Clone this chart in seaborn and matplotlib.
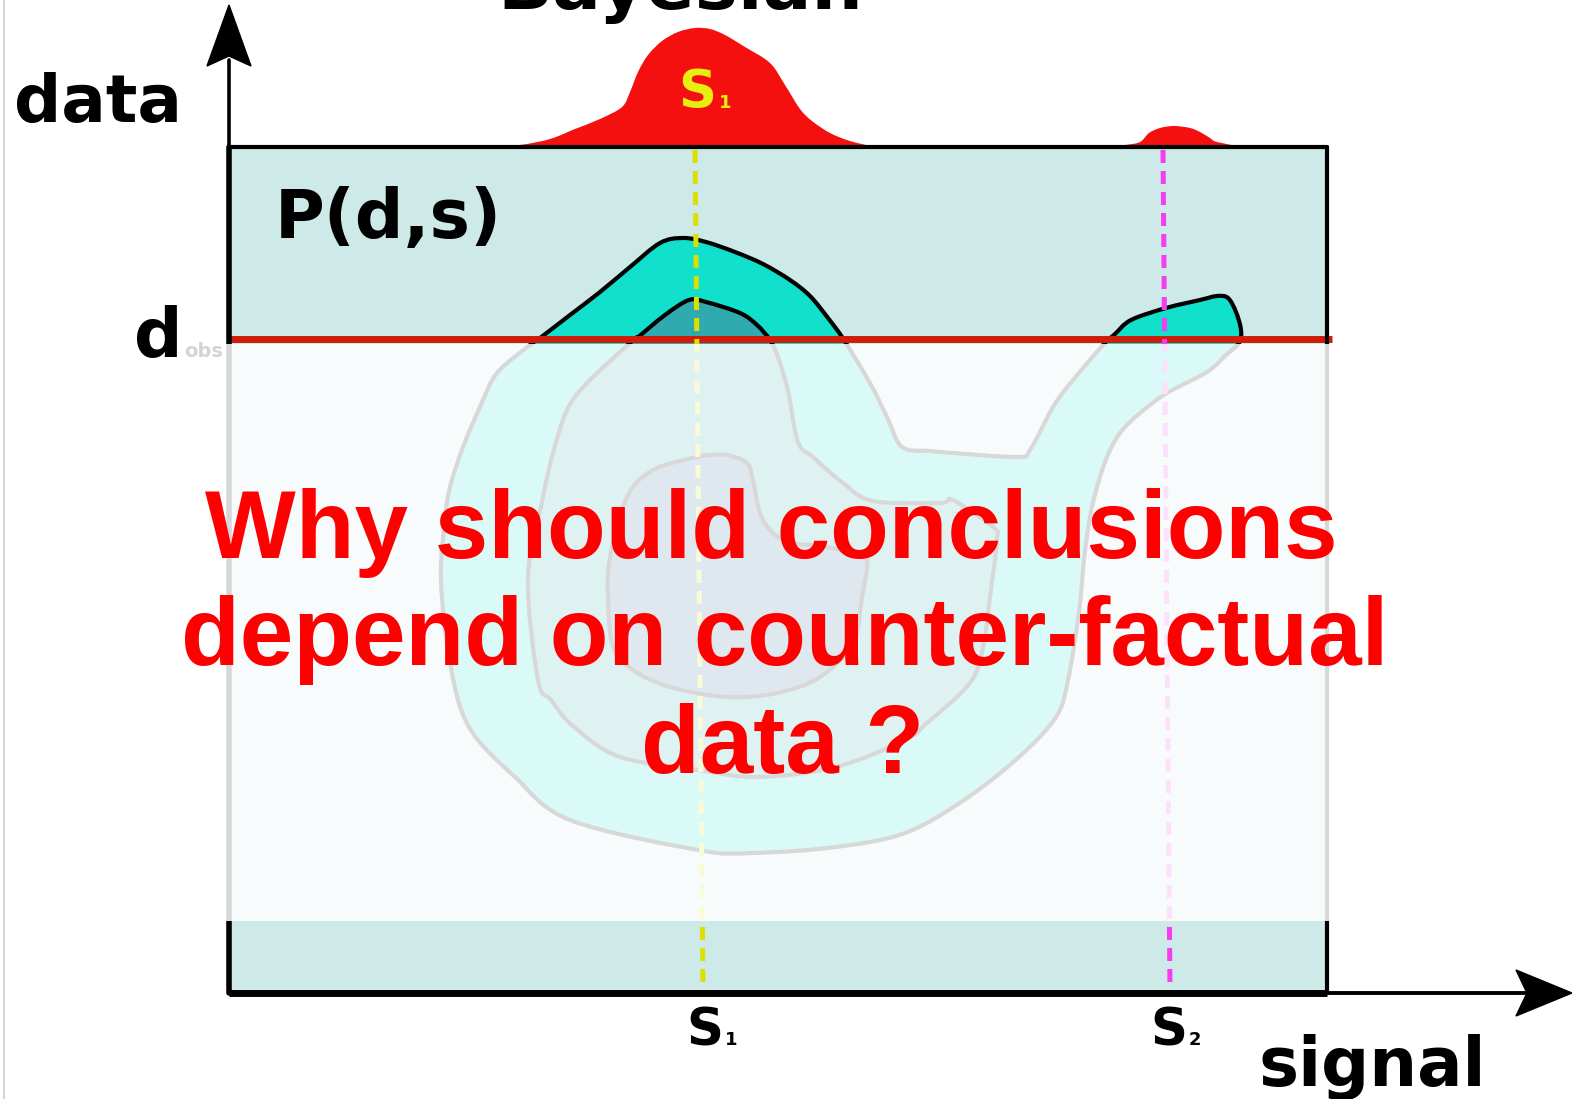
import numpy as np
import matplotlib.pyplot as plt
import seaborn as sns
from matplotlib.path import Path
from matplotlib.patches import PathPatch

sns.set_theme(style="white")
plt.rcParams['font.family'] = ['DejaVu Sans']

# drawing units: signal runs left->right, data runs downwards (picture units)
# marginal posterior on top of the frame
red_sig = [490, 520, 550, 575, 600, 622, 630, 638, 648, 662, 678, 695, 710, 725, 745, 770, 785, 800, 812, 830, 850, 875]
red_h = [0, 2, 8, 18, 28, 40, 55, 75, 92, 106, 115, 119, 118, 112, 100, 84, 62, 38, 26, 14, 6, 0]
bump_sig = [1106, 1125, 1140, 1149, 1160, 1174, 1190, 1200, 1210, 1217, 1243]
bump_h = [0, 2, 5, 14, 19, 21, 19, 15, 9, 5, 0]

# joint P(d,s) contour levels (outer, middle, inner)
outer_s = [530, 540, 570, 600, 630, 660, 683, 706, 735, 763, 790, 810, 828, 844, 870, 887, 902, 930, 953, 1017,
           1030, 1053, 1073, 1103, 1115, 1131, 1166, 1200, 1217, 1228, 1236, 1241, 1239, 1226, 1207, 1167, 1140,
           1120, 1107, 1097, 1090, 1084, 1079, 1068, 1056, 1019, 964, 905, 836, 753, 698, 570, 515, 469, 450,
           441, 445, 450, 463, 480, 497]
outer_d = [345, 338, 315, 292, 267, 243, 238, 242, 252, 264, 280, 296, 318, 340, 383, 417, 447, 451, 453, 457,
           450, 407, 380, 345, 334, 320, 308, 300, 296, 298, 312, 330, 343, 355, 372, 393, 413,
           433, 457, 487, 517, 560, 612, 680, 717, 757, 800, 833, 847, 853, 850, 820, 777, 727, 663,
           580, 520, 487, 447, 407, 373]
mid_s = [630, 637, 665, 689, 706, 740, 757, 770, 778, 788, 798, 813, 843, 873, 940, 953, 993, 997, 990, 983,
         970, 927, 905, 836, 758, 698, 620, 574, 551, 538, 528, 543, 553, 567, 587]
mid_d = [343, 338, 315, 300, 302, 313, 325, 340, 357, 391, 442, 457, 483, 501, 503, 500, 527, 540, 597, 647,
         683, 723, 740, 767, 777, 770, 757, 727, 700, 680, 578, 497, 453, 410, 383]
inner_s = [653, 697, 713, 727, 747, 753, 760, 773, 793, 827, 863, 867, 862, 853, 820, 777, 727, 670, 633, 613,
           608, 610, 627]
inner_d = [470, 457, 455, 455, 463, 480, 513, 533, 543, 547, 557, 567, 597, 643, 677, 693, 697, 687, 670, 647,
           597, 557, 497]

d_obs = 339
s_true = [(695, 703), (1163, 1170)]
s_colors = ['#dce000', '#f23ef0']
frame_s = (229, 1327)
frame_d = (147, 993)
band_d = (344, 921)


def smooth_path(xs, ys, closed=True):
    # catmull-rom through the read points, drawn as bezier segments
    p = np.column_stack([xs, ys]).astype(float)
    n = len(p)
    if closed:
        get = lambda i: p[i % n]
        segs = range(n)
    else:
        get = lambda i: p[min(max(i, 0), n - 1)]
        segs = range(n - 1)
    verts = [p[0]]
    codes = [Path.MOVETO]
    for i in segs:
        p0, p1, p2, p3 = get(i - 1), get(i), get(i + 1), get(i + 2)
        verts += [p1 + (p2 - p0) / 6, p2 - (p3 - p1) / 6, p2]
        codes += [Path.CURVE4] * 3
    if closed:
        verts.append(p[0])
        codes.append(Path.CLOSEPOLY)
    return verts, codes


def density_patch(sig, h, base, **kw):
    verts, codes = smooth_path(sig, base - np.array(h, dtype=float), closed=False)
    verts.append(verts[0])
    codes.append(Path.CLOSEPOLY)
    return PathPatch(Path(verts, codes), **kw)


fig = plt.figure(figsize=(15.72, 10.99), dpi=100)
ax = fig.add_axes([0, 0, 1, 1])
ax.set_xlim(0, 1572)
ax.set_ylim(1099, 0)
ax.axis('off')

# frame background
ax.fill_between(frame_s, frame_d[0], frame_d[1], color='#cdeae8', zorder=1, lw=0)

# contours
for xs, ys, fc, z in [(outer_s, outer_d, '#10e0cc', 2), (mid_s, mid_d, '#30aaae', 2.1),
                      (inner_s, inner_d, '#2f6499', 2.2)]:
    v, c = smooth_path(xs, ys)
    ax.add_patch(PathPatch(Path(v, c), facecolor=fc, edgecolor='black', lw=3, zorder=z))

# observed data line
ax.plot([frame_s[0], 1332], [d_obs, d_obs], color='#d01c08', lw=5, zorder=3, solid_capstyle='butt')

# true signal lines
for (top, bot), c in zip(s_true, s_colors):
    ax.plot([top, bot], [150, 990], color=c, lw=3.6, dashes=(2.6, 1.6), zorder=4)

# frame border
ax.plot([frame_s[0], frame_s[1]], [frame_d[0], frame_d[0]], color='black', lw=3, zorder=5)
ax.plot([frame_s[1], frame_s[1]], [frame_d[0], frame_d[1]], color='black', lw=3, zorder=5)
ax.plot([frame_s[0], frame_s[1]], [frame_d[1], frame_d[1]], color='black', lw=5, zorder=5, solid_capstyle='butt')
ax.plot([frame_s[0], frame_s[0]], [frame_d[0], frame_d[1]], color='black', lw=4, zorder=5)

# axes arrows
ax.plot([229, 229], [60, frame_d[0]], color='black', lw=2.6, zorder=5)
ax.fill([229, 251, 229, 207], [5, 66, 56, 66], color='black', zorder=5)
ax.plot([frame_s[1], 1525], [993, 993], color='black', lw=2.8, zorder=5)
ax.fill([1572, 1516, 1527, 1516], [993, 970, 993, 1016], color='black', zorder=5)

# faded middle (counterfactual data)
ax.fill_between([226, 1332], band_d[0], band_d[1], color='white', alpha=0.85, lw=0, zorder=6)

# image edge
ax.plot([4, 4], [0, 1099], color='#cccccc', lw=1.2, zorder=6)

# marginal on top
ax.add_patch(density_patch(red_sig, red_h, frame_d[0], facecolor='#f51010', lw=0, zorder=4))
ax.add_patch(density_patch(bump_sig, bump_h, frame_d[0], facecolor='#f51010', lw=0, zorder=4))

bold = dict(fontweight='bold', va='baseline', ha='left', zorder=8)
ax.text(680, 9, 'Bayesian', fontsize=52, color='black', fontweight='bold', ha='center', va='baseline')
ax.text(14, 122, 'data', fontsize=47.5, color='black', **bold)
ax.text(275, 238, 'P(d,s)', fontsize=49, color='black', **bold)
ax.text(134, 357, 'd', fontsize=49, color='black', **bold)
ax.text(184, 357, 'obs', fontsize=14, color='#d4d4d4', **bold)
ax.text(678, 108, 'S', fontsize=38, color='#e8ee10', **bold)
ax.text(719, 108, '1', fontsize=13, color='#e8ee10', **bold)
ax.text(686, 1045, 'S', fontsize=37, color='black', **bold)
ax.text(725, 1045, '1', fontsize=13, color='black', **bold)
ax.text(1150, 1045, 'S', fontsize=37, color='black', **bold)
ax.text(1189, 1045, '2', fontsize=13, color='black', **bold)
ax.text(1259, 1085, 'signal', fontsize=48.5, color='black', **bold)

msg_lines = ['Why should conclusions', 'depend on counter-factual', 'data ?']
msg_left = [205, 181, 641]
msg_base = [558, 665, 773]
for txt, x, y in zip(msg_lines, msg_left, msg_base):
    ax.text(x, y, txt, fontsize=69.2, color='#ff0000', fontweight='bold',
            family=['Liberation Sans', 'DejaVu Sans'], ha='left', va='baseline', zorder=9)

fig.savefig('out.png', dpi=100)
